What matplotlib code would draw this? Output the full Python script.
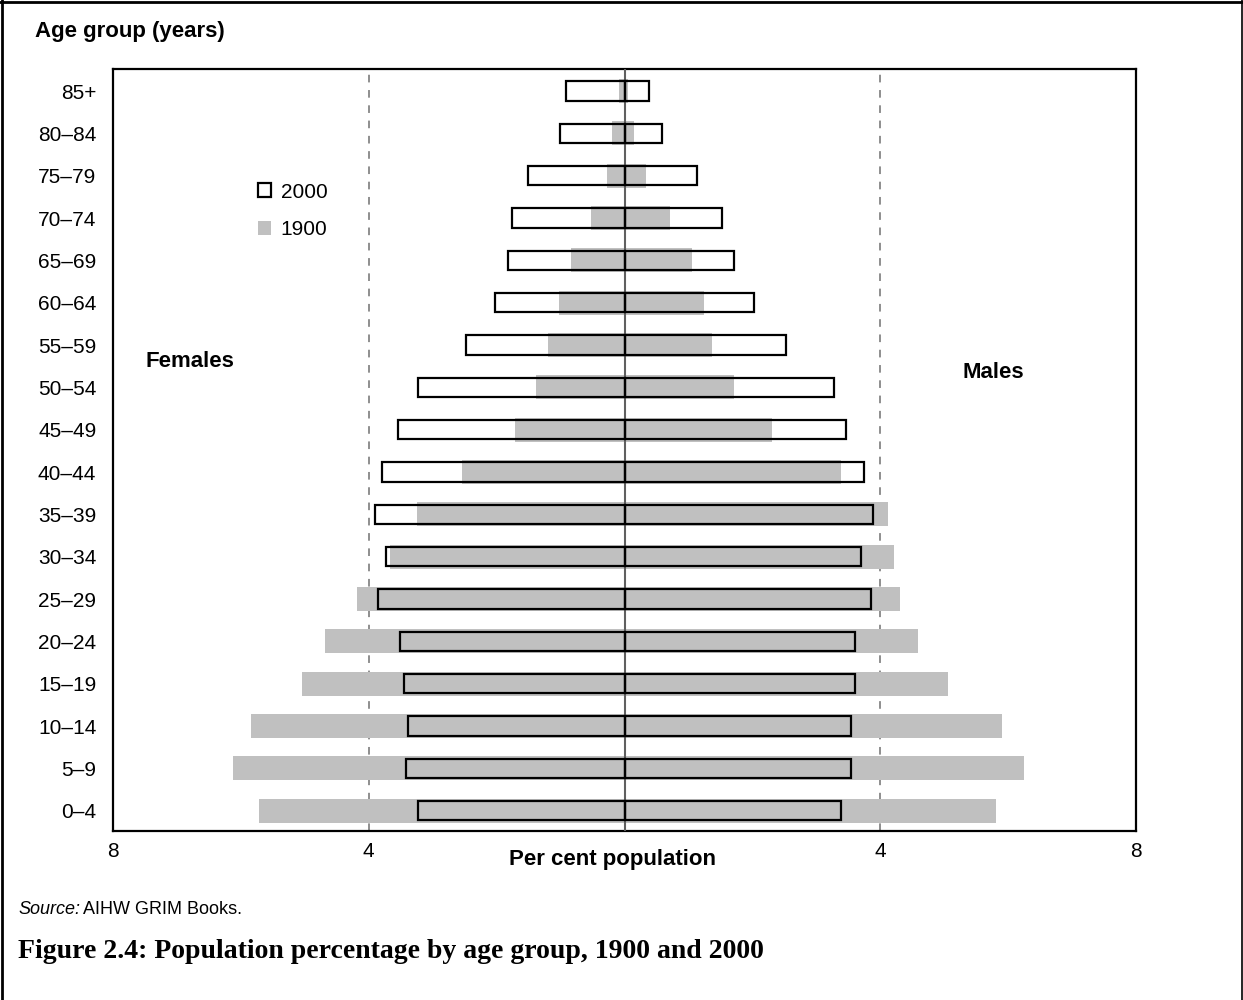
import matplotlib
matplotlib.use("Agg")
import matplotlib.pyplot as plt
from matplotlib.patches import Patch
from matplotlib.lines import Line2D
import numpy as np

age_groups = ['0–4', '5–9', '10–14', '15–19', '20–24', '25–29', '30–34', '35–39',
              '40–44', '45–49', '50–54', '55–59', '60–64', '65–69', '70–74',
              '75–79', '80–84', '85+']
female_2000 = [3.23, 3.41, 3.38, 3.45, 3.51, 3.85, 3.73, 3.91, 3.79, 3.54,
               3.23, 2.48, 2.03, 1.82, 1.76, 1.51, 1.01, 0.92]
male_2000 = [3.38, 3.54, 3.54, 3.60, 3.60, 3.85, 3.70, 3.88, 3.75, 3.47,
             3.28, 2.53, 2.03, 1.72, 1.53, 1.13, 0.59, 0.38]
female_1900 = [5.72, 6.13, 5.84, 5.04, 4.69, 4.19, 3.66, 3.25, 2.54, 1.72,
               1.38, 1.19, 1.03, 0.84, 0.53, 0.28, 0.19, 0.09]
male_1900 = [5.81, 6.25, 5.91, 5.06, 4.59, 4.31, 4.22, 4.12, 3.38, 2.30,
             1.71, 1.37, 1.25, 1.06, 0.71, 0.34, 0.15, 0.05]
x_ticks = [-8, -4, 4, 8]
x_tick_labels = ['8', '4', '4', '8']

plt.rcParams['font.family'] = ['Liberation Sans', 'DejaVu Sans']

GRAY = '#c0c0c0'
fig = plt.figure(figsize=(12.43, 10), dpi=100)
ax = fig.add_axes([113/1243, 1-831/1000, 1023/1243, 762/1000])

y = np.arange(len(age_groups))
fneg_2000 = [-v for v in female_2000]
fneg_1900 = [-v for v in female_1900]

# dashed reference lines
for xv in (-4, 4):
    ax.axvline(xv, color='#707070', lw=1.1, ls=(0, (5, 5)), zorder=1)

box_h = 0.45
gray_h = 0.56
# white fill of 2000 boxes
ax.barh(y, fneg_2000, height=box_h, color='white', edgecolor='none', zorder=2)
ax.barh(y, male_2000, height=box_h, color='white', edgecolor='none', zorder=2)
# 1900 gray bars
ax.barh(y, fneg_1900, height=gray_h, color=GRAY, edgecolor='none', zorder=3)
ax.barh(y, male_1900, height=gray_h, color=GRAY, edgecolor='none', zorder=3)
# center line
ax.axvline(0, color='#606060', lw=1.5, zorder=3.5)
# 2000 outlines
ax.barh(y, fneg_2000, height=box_h, color='none', edgecolor='black', lw=1.6, zorder=4)
ax.barh(y, male_2000, height=box_h, color='none', edgecolor='black', lw=1.6, zorder=4)

ax.set_xlim(-8, 8)
ax.set_ylim(-0.48, 17.52)
ax.set_yticks(y)
ax.set_yticklabels(age_groups, fontsize=15)
ax.set_xticks(x_ticks)
ax.set_xticklabels(x_tick_labels, fontsize=15)
ax.tick_params(axis='both', length=0)
ax.tick_params(axis='y', pad=12)
ax.tick_params(axis='x', pad=8)
for s in ax.spines.values():
    s.set_linewidth(1.6)
    s.set_color('black')

# legend
handles = [Patch(facecolor='white', edgecolor='black', lw=1.6, label='2000'),
           Patch(facecolor=GRAY, edgecolor='none', label='1900')]
ax.legend(handles=handles, loc='upper left', bbox_to_anchor=(0.1415, 0.851),
          frameon=False, fontsize=15, handlelength=0.65, handleheight=0.65,
          handletextpad=0.45, labelspacing=0.9, borderpad=0, borderaxespad=0)

ax.text(0.0753, 0.6155, 'Females', transform=ax.transAxes, ha='center', va='center',
        fontsize=16, fontweight='bold')
ax.text(0.861, 0.602, 'Males', transform=ax.transAxes, ha='center', va='center',
        fontsize=16, fontweight='bold')
ax.text(0.488, -0.038, 'Per cent population', transform=ax.transAxes, ha='center',
        va='center', fontsize=16, fontweight='bold')

fig.text(35/1243, 1-31/1000, 'Age group (years)', ha='left', va='center',
         fontsize=16, fontweight='bold')

t1 = fig.text(18/1243, 1-909/1000, 'Source:', ha='left', va='center',
              fontsize=13, fontstyle='italic')
fig.canvas.draw()
bb = t1.get_window_extent()
fig.text(bb.x1/1243 + 3/1243, 1-909/1000, 'AIHW GRIM Books.', ha='left', va='center',
         fontsize=13)

fig.text(18/1243, 1-951/1000, 'Figure 2.4: Population percentage by age group, 1900 and 2000',
         ha='left', va='center', fontsize=20, fontweight='bold',
         family=['Liberation Serif', 'DejaVu Serif'])

# figure border (left, top, right)
fig.add_artist(Line2D([1.5/1243, 1.5/1243], [0, 1], color='black', lw=2,
                      transform=fig.transFigure))
fig.add_artist(Line2D([0, 1], [1-1.5/1000, 1-1.5/1000], color='black', lw=2,
                      transform=fig.transFigure))
fig.add_artist(Line2D([1-1/1243, 1-1/1243], [0, 1], color='black', lw=1.2,
                      transform=fig.transFigure))

fig.savefig('out.png', dpi=100)
